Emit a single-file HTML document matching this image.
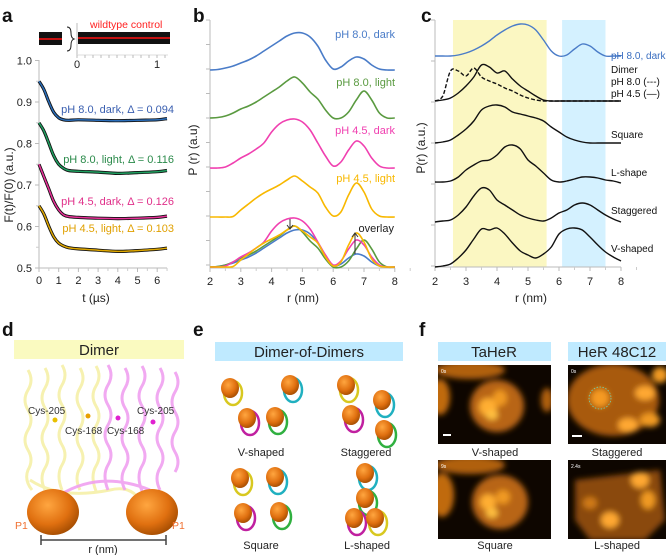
<!DOCTYPE html>
<html><head><meta charset="utf-8">
<style>
html,body{margin:0;padding:0;background:#fff;}
svg{display:block;font-family:"Liberation Sans",Arial,sans-serif;}
.tick{font-size:11px;fill:#222;}
.lab{font-size:12px;fill:#222;}
.pl{font-size:19px;font-weight:bold;fill:#111;}
</style></head>
<body>
<svg id="fig" width="669" height="555" viewBox="0 0 669 555" xmlns="http://www.w3.org/2000/svg">
<defs>
<filter id="blur3"><feGaussianBlur stdDeviation="3"/></filter>
<radialGradient id="blobg" cx="40%" cy="35%" r="70%"><stop offset="0" stop-color="#ffa640"/><stop offset="0.6" stop-color="#e07010"/><stop offset="1" stop-color="#a04a00"/></radialGradient>
<clipPath id="cf1"><rect x="438" y="365" width="113" height="79"/></clipPath>
<clipPath id="cf2"><rect x="568" y="365" width="98" height="79"/></clipPath>
<clipPath id="cf3"><rect x="438" y="460" width="113" height="79"/></clipPath>
<clipPath id="cf4"><rect x="568" y="460" width="98" height="79"/></clipPath>
</defs>

<text class="pl" x="2" y="22">a</text>
<text class="pl" x="193" y="22">b</text>
<text class="pl" x="421" y="22">c</text>
<text class="pl" x="2" y="336">d</text>
<text class="pl" x="193" y="336">e</text>
<text class="pl" x="419" y="336">f</text>

<g id="pa"></g>
<g id="pb"></g>
<g id="pc"></g>

<!-- panel d -->
<g>
<rect x="14" y="340" width="170" height="19" fill="#fafac0"/>
<text x="99" y="355" text-anchor="middle" font-size="15" fill="#222">Dimer</text>
<g fill="none" stroke="#f6f0a8" stroke-width="3" opacity="0.9">
<path d="M28 370 q6 10 0 20 q-6 10 0 20 q6 10 0 20 q-6 10 0 20 q6 10 0 20 q-4 10 4 20"/>
<path d="M45 368 q6 10 0 20 q-6 10 0 20 q6 10 0 20 q-6 10 0 20 q6 10 0 20 q-6 10 0 22"/>
<path d="M62 365 q6 10 0 20 q-6 10 0 20 q6 10 0 20 q-6 10 0 20 q6 10 0 20 q-6 10 0 25"/>
<path d="M80 368 q6 10 0 20 q-6 10 0 20 q6 10 0 20 q-6 10 0 20 q6 10 0 20 q-6 10 0 22"/>
<path d="M96 366 q6 10 0 20 q-6 10 0 20 q6 10 0 20 q-6 10 0 20 q6 10 0 20 q-6 10 0 25"/>
<path d="M30 480 q30 20 80 10 q20 -5 30 10"/>
</g>
<g fill="none" stroke="#f0a0f0" stroke-width="3" opacity="0.9">
<path d="M108 365 q6 10 0 20 q-6 10 0 20 q6 10 0 20 q-6 10 0 20 q6 10 0 20 q-6 10 0 25"/>
<path d="M125 368 q6 10 0 20 q-6 10 0 20 q6 10 0 20 q-6 10 0 20 q6 10 0 20 q-6 10 0 22"/>
<path d="M142 366 q6 10 0 20 q-6 10 0 20 q6 10 0 20 q-6 10 0 20 q6 10 0 20 q-6 10 0 25"/>
<path d="M160 368 q6 10 0 20 q-6 10 0 20 q6 10 0 20 q-6 10 0 20 q6 10 0 20 q-6 10 0 22"/>
<path d="M175 372 q6 10 0 20 q-6 10 0 20 q6 10 0 20 q-6 10 0 20 q6 10 0 20"/>
<path d="M60 495 q40 -25 90 -5"/>
</g>
<circle cx="55" cy="420" r="2.5" fill="#e8c000"/><circle cx="88" cy="416" r="2.5" fill="#e8a000"/>
<circle cx="118" cy="418" r="2.5" fill="#e020d0"/><circle cx="153" cy="422" r="2.5" fill="#e020d0"/>
<text x="28" y="414" font-size="10" fill="#333">Cys-205</text>
<text x="65" y="434" font-size="10" fill="#333">Cys-168</text>
<text x="107" y="434" font-size="10" fill="#333">Cys-168</text>
<text x="137" y="414" font-size="10" fill="#333">Cys-205</text>
<ellipse cx="53" cy="512" rx="26" ry="23" fill="url(#blobg)"/>
<ellipse cx="152" cy="512" rx="26" ry="23" fill="url(#blobg)"/>
<text x="15" y="529" font-size="10.5" fill="#f07030">P1</text>
<text x="172" y="529" font-size="10.5" fill="#f07030">P1</text>
<path d="M41 540 H166 M41 535 V545 M166 535 V545" stroke="#444" stroke-width="1.5"/>
<text x="103" y="553" text-anchor="middle" font-size="11" fill="#222">r (nm)</text>
</g>

<!-- panel e -->
<g>
<rect x="215" y="342" width="188" height="19" fill="#bfeaff"/>
<text x="309" y="357" text-anchor="middle" font-size="15" fill="#222">Dimer-of-Dimers</text>
<g id="mols"></g>
<text x="261" y="456" text-anchor="middle" class="tick">V-shaped</text>
<text x="366" y="456" text-anchor="middle" class="tick">Staggered</text>
<text x="261" y="549" text-anchor="middle" class="tick">Square</text>
<text x="367" y="549" text-anchor="middle" class="tick">L-shaped</text>
</g>

<!-- panel f -->
<g>
<rect x="438" y="342" width="113" height="19" fill="#bfeaff"/>
<text x="494" y="357" text-anchor="middle" font-size="15" fill="#222">TaHeR</text>
<rect x="568" y="342" width="98" height="19" fill="#bfeaff"/>
<text x="617" y="357" text-anchor="middle" font-size="15" fill="#222">HeR 48C12</text>
<g clip-path="url(#cf1)">
<rect x="438" y="365" width="113" height="79" fill="#0e0600"/>
<g filter="url(#blur3)"><ellipse cx="470" cy="370" rx="35" ry="9" fill="#b06010"/><ellipse cx="440" cy="397" rx="10" ry="18" fill="#c06a10"/><ellipse cx="547" cy="400" rx="6" ry="12" fill="#b06010"/>
<ellipse cx="497" cy="406" rx="27" ry="26" fill="#b86512"/><ellipse cx="488" cy="407" rx="9" ry="9" fill="#ffae30"/><ellipse cx="500" cy="398" rx="7" ry="8" fill="#f09a20"/><ellipse cx="492" cy="415" rx="6" ry="5" fill="#ffc040"/></g>
<rect x="443" y="434" width="8" height="2" fill="#fff"/>
<text x="441" y="373" font-size="5" fill="#fff">0s</text>
</g>
<g clip-path="url(#cf2)">
<rect x="568" y="365" width="98" height="79" fill="#0e0600"/>
<g filter="url(#blur3)"><ellipse cx="613" cy="400" rx="46" ry="36" fill="#a85a10"/><ellipse cx="600" cy="398" rx="9" ry="9" fill="#f59a20"/><ellipse cx="645" cy="393" rx="10" ry="7" fill="#ffa830"/><ellipse cx="628" cy="425" rx="10" ry="7" fill="#ffa830"/><ellipse cx="650" cy="420" rx="10" ry="7" fill="#f09a20"/><ellipse cx="660" cy="375" rx="8" ry="8" fill="#f09a20"/></g>
<circle cx="600" cy="398" r="11" fill="none" stroke="#70d0b0" stroke-width="0.8" stroke-dasharray="1.5 1.5"/>
<rect x="572" y="435" width="10" height="2" fill="#fff"/>
<text x="571" y="373" font-size="5" fill="#fff">0s</text>
</g>
<g clip-path="url(#cf3)">
<rect x="438" y="460" width="113" height="79" fill="#0e0600"/>
<g filter="url(#blur3)"><ellipse cx="470" cy="465" rx="35" ry="9" fill="#b06010"/><ellipse cx="442" cy="495" rx="12" ry="22" fill="#c06a10"/>
<ellipse cx="500" cy="502" rx="28" ry="27" fill="#b86512"/><ellipse cx="488" cy="502" rx="8" ry="8" fill="#ffae30"/><ellipse cx="503" cy="497" rx="7" ry="7" fill="#f09a20"/><ellipse cx="492" cy="513" rx="6" ry="5" fill="#ffc040"/></g>
<text x="441" y="468" font-size="5" fill="#fff">9s</text>
</g>
<g clip-path="url(#cf4)">
<rect x="568" y="460" width="98" height="79" fill="#0e0600"/>
<g filter="url(#blur3)"><path d="M575 480 L660 470 L665 520 L645 540 L590 540 L575 520 Z" fill="#8a4a10"/><ellipse cx="640" cy="480" rx="9" ry="8" fill="#ffa830"/><ellipse cx="648" cy="500" rx="7" ry="9" fill="#f09a20"/><ellipse cx="610" cy="520" rx="9" ry="8" fill="#ffa830"/><ellipse cx="590" cy="503" rx="7" ry="6" fill="#d07a18"/></g>
<text x="571" y="468" font-size="5" fill="#fff">2.4s</text>
</g>
<text x="495" y="456" text-anchor="middle" class="tick">V-shaped</text>
<text x="617" y="456" text-anchor="middle" class="tick">Staggered</text>
<text x="495" y="549" text-anchor="middle" class="tick">Square</text>
<text x="617" y="549" text-anchor="middle" class="tick">L-shaped</text>
</g>
</svg>

<script>
// ---------- panel a data ----------
const aTimes = [0,0.25,0.5,0.75,1,1.25,1.5,2,3,4,5,6,6.5];
const aBlue = [0.95,0.93,0.90,0.875,0.862,0.857,0.856,0.857,0.856,0.855,0.856,0.857,0.86];
const aGreen = [0.85,0.83,0.80,0.77,0.75,0.74,0.735,0.733,0.731,0.728,0.73,0.732,0.735];
const aMagenta = [0.75,0.72,0.69,0.66,0.64,0.628,0.624,0.622,0.62,0.619,0.62,0.622,0.625];
const aOrange = [0.65,0.63,0.60,0.575,0.56,0.553,0.549,0.546,0.543,0.54,0.542,0.545,0.548];
const aYTicks = ["0.5","0.6","0.7","0.8","0.9","1.0"];
const aXTicks = ["0","1","2","3","4","5","6"];
// ---------- panel b data ----------
const rGrid = [2,2.25,2.5,2.75,3,3.25,3.5,3.75,4,4.25,4.5,4.75,5,5.25,5.5,5.75,6,6.25,6.5,6.75,7,7.25,7.5,7.75,8];
const bBlue = [0,0.5,2,4,7,10,14,19,24,29,34,37,37,33,24,10,1,3,9,13,11,5,1,0,0];
const bGreen = [0,0.5,2,5,9,12,16,21,26,31,37,41,35,26,19,8,0,0,6,18,27,18,5,0,0];
const bMagenta = [0,0,1,5,10,14,19,25,36,44,48,49,46,38,25,12,2,6,18,27,22,10,2,0,0];
const bOrange = [0,0,0,0.5,7,13,19,24,28,32,37,41,36,30,24,10,1,5,22,34,25,8,1,0,0];
const rTicks = ["2","3","4","5","6","7","8"];
// ---------- panel c data ----------
const cBlue = [0,0,0,1,3,6,10,15,21,26,30,32,31,26,16,5,0,1,7,12,10,4,0,0,0];
const cDimer45 = [0,1,3,8,15,24,36,34,28,30,22,15,10,5,1,0,0,0,0,0,0,0,0,0,0];
const cDimer80 = [0,5,30,30,25,33,24,20,17,13,10,6,3,1,0,0,0,0,0,0,0,0,0,0,0];
const cSquare = [0,1,3,8,14,22,33,37,38,36,31,29,27,25,22,16,11,6,3,1,0,0,0,0,0];
const cLshape = [0,0,1,5,12,17,21,22,27,35,37,33,22,16,9,2,0,1,3,5,5,4,2,1,-1];
const cStag = [0,1,2,7,15,26,34,32,22,17,12,7,4,2,1,4,9,12,17,19,17,12,7,3,0];
const cV = [0,1,3,9,17,28,38,37,39,33,24,16,12,9,13,20,33,38,39,37,30,22,15,10,6];

const NS = "http://www.w3.org/2000/svg";
function mk(parent, tag, attrs){const e=document.createElementNS(NS,tag);for(const k in attrs)e.setAttribute(k,attrs[k]);parent.appendChild(e);return e;}
function smooth(pts){let d="M"+pts[0][0].toFixed(1)+" "+pts[0][1].toFixed(1);
 for(let i=0;i<pts.length-1;i++){const p0=pts[Math.max(0,i-1)],p1=pts[i],p2=pts[i+1],p3=pts[Math.min(pts.length-1,i+2)];
  const c1=[p1[0]+(p2[0]-p0[0])/6,p1[1]+(p2[1]-p0[1])/6],c2=[p2[0]-(p3[0]-p1[0])/6,p2[1]-(p3[1]-p1[1])/6];
  d+=" C"+c1[0].toFixed(1)+" "+c1[1].toFixed(1)+" "+c2[0].toFixed(1)+" "+c2[1].toFixed(1)+" "+p2[0].toFixed(1)+" "+p2[1].toFixed(1);}
 return d;}

// ===== panel a =====
const pa=document.getElementById('pa');
const ax=t=>39+t*19.7, ay=v=>268-(v-0.5)*415;
let e;
e=mk(pa,'path',{d:"M39 60 V268 H167",stroke:"#bbb",fill:"none","stroke-width":1});


for(let i=0;i<aYTicks.length;i++){const v=0.5+i*0.1;
 mk(pa,'line',{x1:35,x2:39,y1:ay(v),y2:ay(v),stroke:"#bbb"});
 if(i<5) mk(pa,'line',{x1:36,x2:39,y1:ay(v+0.05),y2:ay(v+0.05),stroke:"#ccc"});
 e=mk(pa,'text',{x:32,y:ay(v)+4,"text-anchor":"end",class:"tick"});e.textContent=aYTicks[i];
 
 }
for(let i=0;i<aXTicks.length;i++){const t=+aXTicks[i];
 mk(pa,'line',{x1:ax(t),x2:ax(t),y1:268,y2:272,stroke:"#bbb"});
 mk(pa,'line',{x1:ax(t+0.5),x2:ax(t+0.5),y1:268,y2:271,stroke:"#ccc"});
 e=mk(pa,'text',{x:ax(t),y:284,"text-anchor":"middle",class:"tick"});e.textContent=aXTicks[i];
 
 }
e=mk(pa,'text',{x:96,y:302,"text-anchor":"middle",class:"lab"});e.textContent="t (µs)";


e=mk(pa,'text',{x:0,y:0,"text-anchor":"middle",class:"lab",transform:"translate(13,185) rotate(-90)"});e.textContent="F(t)/F(0) (a.u.)";


// inset
mk(pa,'line',{x1:77,x2:77,y1:23,y2:55,stroke:"#bbb"});
mk(pa,'line',{x1:77,x2:168,y1:55,y2:55,stroke:"#ddd"});
for(let t=0;t<=1.1;t+=0.1){mk(pa,'line',{x1:77+t*80,x2:77+t*80,y1:55,y2:58,stroke:"#bbb"});}
e=mk(pa,'text',{x:77,y:68,"text-anchor":"middle",class:"tick"});e.textContent="0";
e=mk(pa,'text',{x:157,y:68,"text-anchor":"middle",class:"tick"});e.textContent="1";
e=mk(pa,'rect',{x:39,y:32,width:23,height:13,fill:"#111"});
e=mk(pa,'rect',{x:78,y:32,width:92,height:12,fill:"#111"});


mk(pa,'line',{x1:39,x2:62,y1:39,y2:39,stroke:"#ff1010","stroke-width":1.5});
mk(pa,'line',{x1:78,x2:170,y1:38,y2:38,stroke:"#ff1010","stroke-width":1.5});
mk(pa,'path',{d:"M67 27 q4 0 4 6 q0 5 3 6 q-3 1 -3 6 q0 6 -4 6",stroke:"#222",fill:"none"});
e=mk(pa,'text',{x:90,y:28,"font-size":"10.5",fill:"#ff2020"});e.textContent="wildtype control";


const aSeries=[[aBlue,"#2a6ebb","pH 8.0, dark, Δ = 0.094",113,"#3a5fb0"],[aGreen,"#1fa060","pH 8.0, light, Δ = 0.116",163,"#2a8a4a"],[aMagenta,"#e83098","pH 4.5, dark, Δ = 0.126",205,"#e0308a"],[aOrange,"#e0a800","pH 4.5, light, Δ = 0.103",232,"#e0a000"]];
aSeries.forEach((s,k)=>{const pts=aTimes.map((t,i)=>[ax(t),ay(s[0][i])]);
 e=mk(pa,'path',{d:smooth(pts),stroke:"#111",fill:"none","stroke-width":3.2});
 
 
 e=mk(pa,'path',{d:smooth(pts),stroke:s[1],fill:"none","stroke-width":1.5});
 
 
 e=mk(pa,'text',{x:174,y:s[3],"text-anchor":"end","font-size":"11",fill:s[4]});e.textContent=s[2];
 
 });

// ===== panel b =====
const pb=document.getElementById('pb');
const bx=r=>210+(r-2)*30.8;
mk(pb,'path',{d:"M210 20 V268 H395",stroke:"#bbb",fill:"none"});
for(let y=20;y<=268;y+=24.5) mk(pb,'line',{x1:206,x2:210,y1:y,y2:y,stroke:"#bbb"});
rTicks.forEach(t=>{mk(pb,'line',{x1:bx(+t),x2:bx(+t),y1:268,y2:272,stroke:"#bbb"});
 mk(pb,'line',{x1:bx(+t+0.5),x2:bx(+t+0.5),y1:268,y2:271,stroke:"#ccc"});
 e=mk(pb,'text',{x:bx(+t),y:285,"text-anchor":"middle",class:"tick"});e.textContent=t;
 
 });
e=mk(pb,'text',{x:303,y:302,"text-anchor":"middle",class:"lab"});e.textContent="r (nm)";


e=mk(pb,'text',{x:0,y:0,"text-anchor":"middle",class:"lab",transform:"translate(197,150) rotate(-90)"});e.textContent="P (r) (a.u)";


const bSeries=[[bBlue,"#4a7cc8",70,"pH 8.0, dark",38],[bGreen,"#5a9a40",118,"pH 8.0, light",86],[bMagenta,"#f040b0",168,"pH 4.5, dark",134],[bOrange,"#f8b800",217,"pH 4.5, light",182]];
bSeries.forEach(s=>{const pts=rGrid.map((r,i)=>[bx(r),s[2]-s[0][i]]);
 e=mk(pb,'path',{d:smooth(pts),stroke:s[1],fill:"none","stroke-width":1.6});
 
 
 e=mk(pb,'text',{x:395,y:s[4],"text-anchor":"end","font-size":"11",fill:s[1]});e.textContent=s[3];
 
 });
bSeries.forEach(s=>{const pts=rGrid.map((r,i)=>[bx(r),267-s[0][i]]);
 e=mk(pb,'path',{d:smooth(pts),stroke:s[1],fill:"none","stroke-width":1.6});
 
 });
e=mk(pb,'text',{x:394,y:232,"text-anchor":"end","font-size":"11",fill:"#222"});e.textContent="overlay";
mk(pb,'path',{d:"M290 219 V228 M287 225 L290 229 L293 225 M355 254 V233 M352 237 L355 233 L358 237",stroke:"#333",fill:"none"});

// ===== panel c =====
const pc=document.getElementById('pc');
const cx=r=>435+(r-2)*31;
e=mk(pc,'rect',{x:cx(2.58),y:20,width:cx(5.6)-cx(2.58),height:247,fill:"#fbf7c2"});


e=mk(pc,'rect',{x:cx(6.1),y:20,width:cx(7.5)-cx(6.1),height:247,fill:"#d4f1ff"});


mk(pc,'path',{d:"M435 20 V267 H621",stroke:"#bbb",fill:"none"});
for(let y=20;y<=267;y+=41) mk(pc,'line',{x1:431,x2:435,y1:y,y2:y,stroke:"#bbb"});
rTicks.forEach(t=>{mk(pc,'line',{x1:cx(+t),x2:cx(+t),y1:267,y2:271,stroke:"#bbb"});
 mk(pc,'line',{x1:cx(+t+0.5),x2:cx(+t+0.5),y1:267,y2:270,stroke:"#ccc"});
 e=mk(pc,'text',{x:cx(+t),y:285,"text-anchor":"middle",class:"tick"});e.textContent=t;
 
 });
e=mk(pc,'text',{x:531,y:302,"text-anchor":"middle",class:"lab"});e.textContent="r (nm)";


e=mk(pc,'text',{x:0,y:0,"text-anchor":"middle",class:"lab",transform:"translate(425,148) rotate(-90)"});e.textContent="P(r) (a.u.)";


const cSeries=[[cBlue,"#4a7cc8",56,""],[cDimer80,"#111",101,"4 2"],[cDimer45,"#111",101,""],[cSquare,"#111",143,""],[cLshape,"#111",182,""],[cStag,"#111",222,""],[cV,"#111",267,""]];
cSeries.forEach(s=>{const pts=rGrid.map((r,i)=>[cx(r),s[2]-s[0][i]]);
 e=mk(pc,'path',{d:smooth(pts),stroke:s[1],fill:"none","stroke-width":1.4,"stroke-dasharray":s[3]||"none"});
 
 });
const cLabels=[["pH 8.0, dark",59,"#3a6ec0"],["Dimer",73,"#111"],["pH 8.0 (---)",85,"#111"],["pH 4.5 (—)",97,"#111"],["Square",138,"#111"],["L-shape",176,"#111"],["Staggered",214,"#111"],["V-shaped",252,"#111"]];
cLabels.forEach(l=>{e=mk(pc,'text',{x:611,y:l[1],"font-size":"10","fill":l[2]});e.textContent=l[0];
 
 });

// ===== panel e molecules =====
const mols=document.getElementById('mols');
const blobs=[[230,388,"#d8c820"],[247,418,"#c020a0"],[290,385,"#20b0c0"],[275,417,"#30b040"],
 [346,385,"#d8c820"],[351,415,"#c020a0"],[382,400,"#20b0c0"],[384,430,"#30b040"],
 [240,478,"#d8c820"],[243,513,"#c020a0"],[275,477,"#20b0c0"],[279,512,"#30b040"],
 [365,473,"#20b0c0"],[365,498,"#30b040"],[354,518,"#c020a0"],[375,518,"#d8c820"]];
blobs.forEach(b=>{
 e=mk(mols,'ellipse',{cx:b[0]+3,cy:b[1]+5,rx:9,ry:12,fill:"none",stroke:b[2],"stroke-width":2.5});
 e=mk(mols,'ellipse',{cx:b[0],cy:b[1],rx:9,ry:10,fill:"url(#blobg)"});
 
 });
</script>
</body></html>
